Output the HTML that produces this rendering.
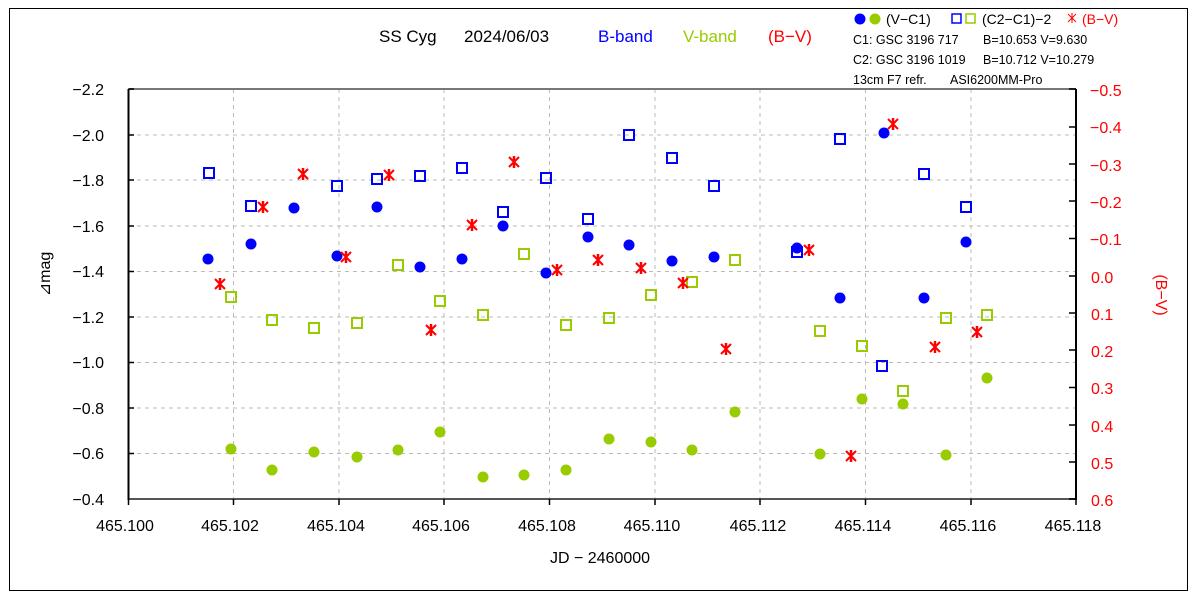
<!DOCTYPE html>
<html><head><meta charset="utf-8"><style>html,body{margin:0;padding:0;background:#fff}svg{display:block}</style></head>
<body>
<svg width="1200" height="600" viewBox="0 0 1200 600" xmlns="http://www.w3.org/2000/svg" font-family="Liberation Sans, sans-serif">
<defs>
<circle id="d" r="5.5"/>
<rect id="s" x="-5" y="-5" width="10" height="10" fill="none" stroke-width="2"/>
<g id="x" stroke="#f00" stroke-width="2"><line x1="-5" y1="-5" x2="5" y2="5"/><line x1="-5" y1="5" x2="5" y2="-5"/><line x1="0" y1="-6" x2="0" y2="6" stroke-width="2.5"/></g>
</defs>
<rect x="9.5" y="8.5" width="1178" height="582" fill="#fff" stroke="#000" stroke-width="1"/>
<g stroke="#bbb" stroke-dasharray="4,4" stroke-width="1">
<line x1="233.5" y1="89" x2="233.5" y2="499"/><line x1="339" y1="89" x2="339" y2="499"/><line x1="444" y1="89" x2="444" y2="499"/><line x1="549.5" y1="89" x2="549.5" y2="499"/><line x1="655" y1="89" x2="655" y2="499"/><line x1="760" y1="89" x2="760" y2="499"/><line x1="865.5" y1="89" x2="865.5" y2="499"/><line x1="971" y1="89" x2="971" y2="499"/>
<line x1="129" y1="135" x2="1076" y2="135"/><line x1="129" y1="180" x2="1076" y2="180"/><line x1="129" y1="226" x2="1076" y2="226"/><line x1="129" y1="271.5" x2="1076" y2="271.5"/><line x1="129" y1="317" x2="1076" y2="317"/><line x1="129" y1="362.5" x2="1076" y2="362.5"/><line x1="129" y1="408" x2="1076" y2="408"/><line x1="129" y1="453.5" x2="1076" y2="453.5"/>
</g>
<line x1="128" y1="89" x2="1076" y2="89" stroke="#777" stroke-width="2"/>
<line x1="128" y1="499" x2="1076" y2="499" stroke="#555" stroke-width="2"/>
<line x1="128.5" y1="89" x2="128.5" y2="500" stroke="#000" stroke-width="2"/>
<line x1="1076" y1="89" x2="1076" y2="500" stroke="#000" stroke-width="2"/>
<g stroke="#000" stroke-width="1.5">
<line x1="129" y1="89" x2="134" y2="89"/><line x1="129" y1="135" x2="134" y2="135"/><line x1="129" y1="180" x2="134" y2="180"/><line x1="129" y1="226" x2="134" y2="226"/><line x1="129" y1="271.5" x2="134" y2="271.5"/><line x1="129" y1="317" x2="134" y2="317"/><line x1="129" y1="362.5" x2="134" y2="362.5"/><line x1="129" y1="408" x2="134" y2="408"/><line x1="129" y1="453.5" x2="134" y2="453.5"/>
<line x1="128.5" y1="499" x2="128.5" y2="505"/><line x1="233.5" y1="499" x2="233.5" y2="505"/><line x1="339" y1="499" x2="339" y2="505"/><line x1="444" y1="499" x2="444" y2="505"/><line x1="549.5" y1="499" x2="549.5" y2="505"/><line x1="655" y1="499" x2="655" y2="505"/><line x1="760" y1="499" x2="760" y2="505"/><line x1="865.5" y1="499" x2="865.5" y2="505"/><line x1="971" y1="499" x2="971" y2="505"/><line x1="1076" y1="499" x2="1076" y2="505"/>
<line x1="1069" y1="89" x2="1076" y2="89"/><line x1="1069" y1="127" x2="1076" y2="127"/><line x1="1069" y1="164" x2="1076" y2="164"/><line x1="1069" y1="201" x2="1076" y2="201"/><line x1="1069" y1="238.5" x2="1076" y2="238.5"/><line x1="1069" y1="276" x2="1076" y2="276"/><line x1="1069" y1="313" x2="1076" y2="313"/><line x1="1069" y1="350" x2="1076" y2="350"/><line x1="1069" y1="387.5" x2="1076" y2="387.5"/><line x1="1069" y1="425" x2="1076" y2="425"/><line x1="1069" y1="462" x2="1076" y2="462"/><line x1="1069" y1="499" x2="1076" y2="499"/>
</g>
<g font-size="16" text-anchor="end" fill="#000">
<text x="104" y="95">−2.2</text><text x="104" y="141">−2.0</text><text x="104" y="186">−1.8</text><text x="104" y="232">−1.6</text><text x="104" y="277">−1.4</text><text x="104" y="323">−1.2</text><text x="104" y="368">−1.0</text><text x="104" y="414">−0.8</text><text x="104" y="459">−0.6</text><text x="104" y="505">−0.4</text>
</g>
<g font-size="16" text-anchor="middle" fill="#000">
<text x="125" y="531">465.100</text><text x="230" y="531">465.102</text><text x="336" y="531">465.104</text><text x="441" y="531">465.106</text><text x="547" y="531">465.108</text><text x="652" y="531">465.110</text><text x="758" y="531">465.112</text><text x="863" y="531">465.114</text><text x="968" y="531">465.116</text><text x="1073" y="531">465.118</text>
<text x="600" y="563">JD − 2460000</text>
</g>
<g font-size="16" fill="#f00">
<text x="1090" y="96">−0.5</text><text x="1090" y="133">−0.4</text><text x="1090" y="171">−0.3</text><text x="1090" y="208">−0.2</text><text x="1090" y="245">−0.1</text><text x="1091" y="283">0.0</text><text x="1091" y="320">0.1</text><text x="1091" y="357">0.2</text><text x="1091" y="394">0.3</text><text x="1091" y="432">0.4</text><text x="1091" y="469">0.5</text><text x="1091" y="506">0.6</text>
<text transform="translate(1156,295) rotate(90)" text-anchor="middle" font-size="16">(B−V)</text>
</g>
<text transform="translate(50,274) rotate(-90)" text-anchor="middle" font-size="16">⊿mag</text>
<g font-size="17">
<text x="379" y="42" fill="#000">SS Cyg</text>
<text x="464" y="42" fill="#000">2024/06/03</text>
<text x="598" y="42" fill="#00f">B-band</text>
<text x="683" y="42" fill="#99cc00">V-band</text>
<text x="768" y="42" fill="#f00">(B−V)</text>
</g>
<circle cx="860" cy="19" r="5.5" fill="#00f"/><circle cx="875" cy="19" r="5.5" fill="#99cc00"/>
<text x="886" y="24" font-size="14">(V−C1)</text>
<rect x="952" y="14" width="9" height="9" fill="none" stroke="#00f" stroke-width="1.5"/><rect x="966" y="14" width="9" height="9" fill="none" stroke="#99cc00" stroke-width="1.5"/>
<text x="982" y="24" font-size="14">(C2−C1)−2</text>
<g transform="translate(1072,18)"><line x1="-4" y1="-4" x2="4" y2="4" stroke="#f00"/><line x1="-4" y1="4" x2="4" y2="-4" stroke="#f00"/><line x1="0" y1="-5" x2="0" y2="5" stroke="#f00"/></g>
<text x="1082" y="24" font-size="14" fill="#f00">(B−V)</text>
<g font-size="12.5" fill="#000">
<text x="853" y="44">C1: GSC 3196 717</text><text x="983" y="44">B=10.653 V=9.630</text>
<text x="853" y="64">C2: GSC 3196 1019</text><text x="983" y="64">B=10.712 V=10.279</text>
<text x="853" y="84">13cm F7 refr.</text><text x="950" y="84">ASI6200MM-Pro</text>
</g>
<g fill="#99cc00">
<use href="#d" x="231" y="449"/><use href="#d" x="272" y="470"/><use href="#d" x="314" y="452"/><use href="#d" x="357" y="457"/><use href="#d" x="398" y="450"/><use href="#d" x="440" y="432"/><use href="#d" x="483" y="477"/><use href="#d" x="524" y="475"/><use href="#d" x="566" y="470"/><use href="#d" x="609" y="439"/><use href="#d" x="651" y="442"/><use href="#d" x="692" y="450"/><use href="#d" x="735" y="412"/><use href="#d" x="820" y="454"/><use href="#d" x="862" y="399"/><use href="#d" x="903" y="404"/><use href="#d" x="946" y="455"/><use href="#d" x="987" y="378"/>
</g>
<g stroke="#99cc00">
<use href="#s" x="231" y="297"/><use href="#s" x="272" y="320"/><use href="#s" x="314" y="328"/><use href="#s" x="357" y="323"/><use href="#s" x="398" y="265"/><use href="#s" x="440" y="301"/><use href="#s" x="483" y="315"/><use href="#s" x="524" y="254"/><use href="#s" x="566" y="325"/><use href="#s" x="609" y="318"/><use href="#s" x="651" y="295"/><use href="#s" x="692" y="282"/><use href="#s" x="735" y="260"/><use href="#s" x="820" y="331"/><use href="#s" x="862" y="346"/><use href="#s" x="903" y="391"/><use href="#s" x="946" y="318"/><use href="#s" x="987" y="315"/>
</g>
<g stroke="#00f">
<use href="#s" x="209" y="173"/><use href="#s" x="251" y="206"/><use href="#s" x="337" y="186"/><use href="#s" x="377" y="179"/><use href="#s" x="420" y="176"/><use href="#s" x="462" y="168"/><use href="#s" x="503" y="212"/><use href="#s" x="546" y="178"/><use href="#s" x="588" y="219"/><use href="#s" x="629" y="135"/><use href="#s" x="672" y="158"/><use href="#s" x="714" y="186"/><use href="#s" x="797" y="252"/><use href="#s" x="840" y="139"/><use href="#s" x="882" y="366"/><use href="#s" x="924" y="174"/><use href="#s" x="966" y="207"/>
</g>
<g fill="#00f">
<use href="#d" x="208" y="259"/><use href="#d" x="251" y="244"/><use href="#d" x="294" y="208"/><use href="#d" x="337" y="256"/><use href="#d" x="377" y="207"/><use href="#d" x="420" y="267"/><use href="#d" x="462" y="259"/><use href="#d" x="503" y="226"/><use href="#d" x="546" y="273"/><use href="#d" x="588" y="237"/><use href="#d" x="629" y="245"/><use href="#d" x="672" y="261"/><use href="#d" x="714" y="257"/><use href="#d" x="797" y="248"/><use href="#d" x="840" y="298"/><use href="#d" x="884" y="133"/><use href="#d" x="924" y="298"/><use href="#d" x="966" y="242"/>
</g>
<g>
<use href="#x" x="220" y="284"/><use href="#x" x="263" y="207"/><use href="#x" x="303" y="174"/><use href="#x" x="346" y="257"/><use href="#x" x="389" y="175"/><use href="#x" x="431" y="330"/><use href="#x" x="472" y="225"/><use href="#x" x="514" y="162"/><use href="#x" x="557" y="270"/><use href="#x" x="598" y="260"/><use href="#x" x="641" y="268"/><use href="#x" x="683" y="283"/><use href="#x" x="726" y="349"/><use href="#x" x="809" y="250"/><use href="#x" x="851" y="456"/><use href="#x" x="893" y="124"/><use href="#x" x="935" y="347"/><use href="#x" x="977" y="332"/>
</g>
</svg>
</body></html>
